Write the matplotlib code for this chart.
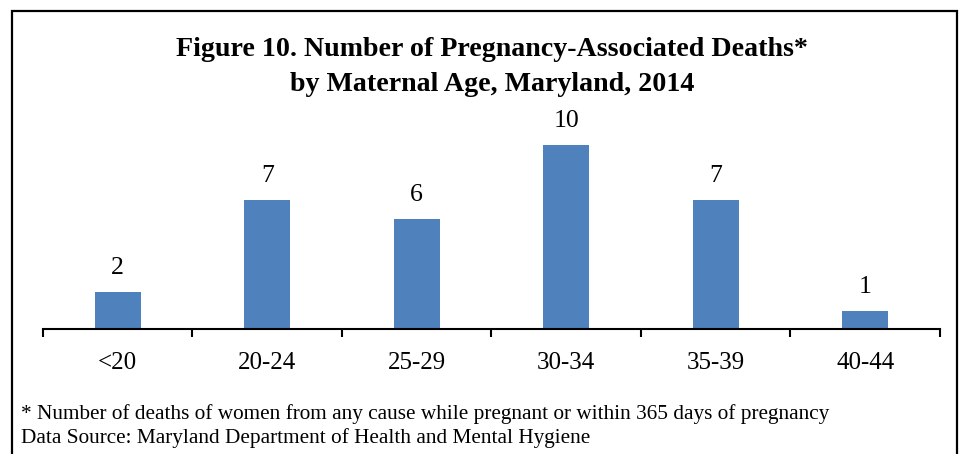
import matplotlib.pyplot as plt
from matplotlib.patches import Rectangle

# --------------------
# Data
# --------------------
age_groups = ["<20", "20-24", "25-29", "30-34", "35-39", "40-44"]
deaths = [2, 7, 6, 10, 7, 1]

title_lines = ["Figure 10. Number of Pregnancy-Associated Deaths*",
               "by Maternal Age, Maryland, 2014"]
footnote = "* Number of deaths of women from any cause while pregnant or within 365 days of pregnancy"
source = "Data Source: Maryland Department of Health and Mental Hygiene"

plt.rcParams["font.family"] = ["Liberation Serif", "DejaVu Serif"]

W, H = 961, 454
PX = 72 / 100  # points per pixel at dpi 100
fig = plt.figure(figsize=(W / 100, H / 100), dpi=100)

# axes placed in pixel terms: x axis at y=329, value 10 at y=145
ax = fig.add_axes([43 / W, (H - 329) / H, (940 - 43) / W, 184 / H])

x = list(range(len(age_groups)))
ax.bar(x, deaths, width=0.31, color="#4F81BD")
ax.set_xlim(-0.5, len(age_groups) - 0.5)
ax.set_ylim(0, 10)

# value labels above bars
for xi, v in zip(x, deaths):
    ax.annotate(str(v), (xi, v), xytext=(0, 18 * PX), textcoords="offset points",
                ha="center", va="baseline", fontsize=18.5, color="black")

# category labels below the axis
for xi, lab in zip(x, age_groups):
    ax.annotate(lab, (xi, 0), xycoords=("data", "axes fraction"),
                xytext=(0, -40 * PX), textcoords="offset points",
                ha="center", va="baseline", fontsize=18, color="black",
                annotation_clip=False)

# --------------------
# Styling
# --------------------
for side in ["left", "right", "top"]:
    ax.spines[side].set_visible(False)
ax.spines["bottom"].set_linewidth(1.5)
ax.set_yticks([])
ax.set_xticks([i - 0.5 for i in range(len(age_groups) + 1)])
ax.set_xticklabels([])
ax.tick_params(axis="x", length=6, width=1.5, direction="out")

fig.text(492 / W, 1 - 56 / H, title_lines[0], ha="center", va="baseline",
         fontsize=20.2, fontweight="bold")
fig.text(492 / W, 1 - 91 / H, title_lines[1], ha="center", va="baseline",
         fontsize=20.2, fontweight="bold")

fig.text(21 / W, 1 - 419 / H, footnote, ha="left", va="baseline", fontsize=15.3)
fig.text(21 / W, 1 - 443 / H, source, ha="left", va="baseline", fontsize=15.3)

# frame around the figure (bottom edge is cut off)
fig.patches.append(Rectangle((12 / W, -0.1), (957 - 12) / W, 1.1 - 11 / H,
                             transform=fig.transFigure, fill=False,
                             edgecolor="black", linewidth=1.6, clip_on=False))

fig.savefig("out.png", dpi=100)
